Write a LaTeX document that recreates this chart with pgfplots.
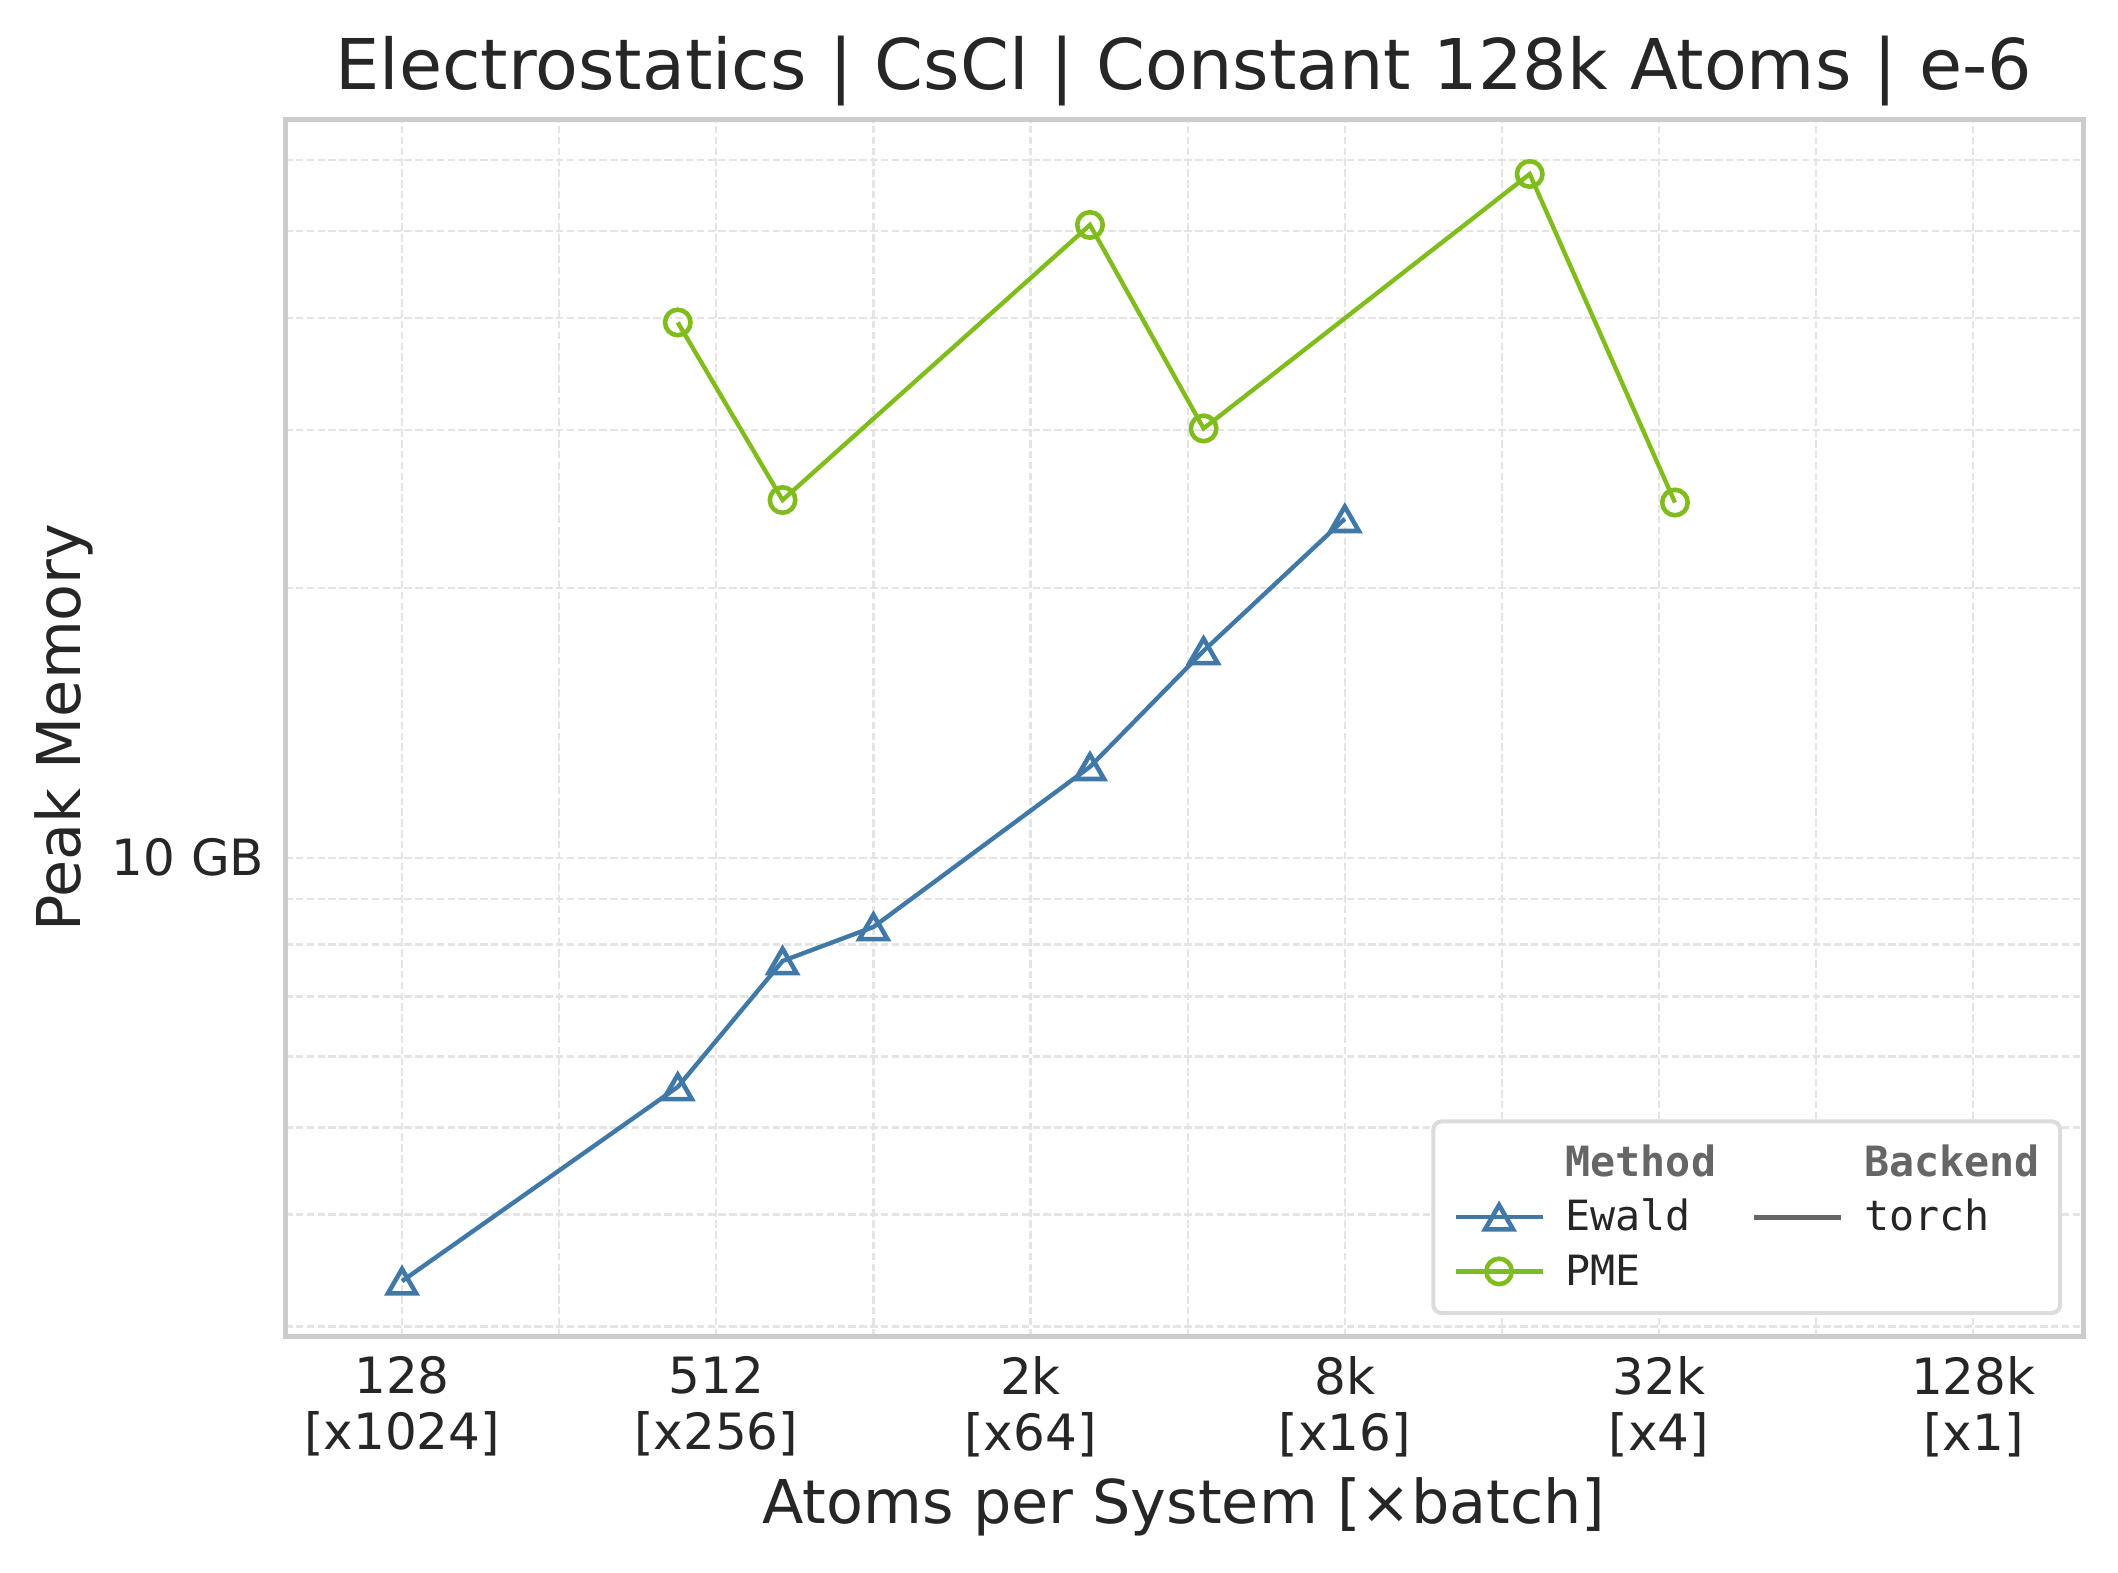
\documentclass[border=0pt]{standalone}
\usepackage{fontspec}
\setmainfont{DejaVu Sans}
\newfontfamily\monofont{DejaVu Sans Mono}
\usepackage{pgfplots}
\pgfplotsset{compat=1.18}
\definecolor{txt}{HTML}{262626}
\definecolor{framec}{HTML}{CCCCCC}
\definecolor{gridc}{HTML}{E4E4E4}
\definecolor{ewald}{HTML}{4079A7}
\definecolor{pme}{HTML}{80BD1C}
\definecolor{torchc}{HTML}{666666}
\definecolor{legframe}{HTML}{DCDCDC}
\definecolor{hdr}{HTML}{666666}
\begin{document}
\begin{tikzpicture}
\useasboundingbox (-68.4pt,-56.64pt) rectangle (439.92pt,320.64pt);
\begin{axis}[
  at={(0pt,0pt)}, anchor=south west,
  scale only axis, width=431.52pt, height=292pt,
  xmode=log, ymode=log,
  xmin=76.4, xmax=212640, ymin=2.927, ymax=66.63,
  axis line style={framec, line width=1.2pt},
  xtick={128,512,2048,8192,32768,131072},
  xticklabels={{128\\{}[x1024]},{512\\{}[x256]},{2k\\{}[x64]},{8k\\{}[x16]},{32k\\{}[x4]},{128k\\{}[x1]}},
  minor xtick={256,1024,4096,16384,65536},
  ytick={10}, yticklabels={10 GB},
  minor ytick={3,4,5,6,7,8,9,20,30,40,50,60},
  grid=both,
  major grid style={gridc, line width=0.55pt, dash pattern=on 1.8pt off 0.8pt},
  minor grid style={gridc, line width=0.55pt, dash pattern=on 1.8pt off 0.8pt},
  major tick length=0pt, minor tick length=0pt,
  tick label style={font=\fontsize{12}{13.4}\selectfont, text=txt},
  xticklabel style={align=center, anchor=north, inner sep=0pt, yshift=-4.8pt},
  yticklabel style={anchor=east, inner sep=0pt, xshift=-4.8pt},
  title={Electrostatics | CsCl | Constant 128k Atoms | e-6},
  title style={at={(axis description cs:0.5,1.00411)}, anchor=base, inner sep=0pt,
    font=\fontsize{16.8}{20}\selectfont, text=txt},
  xlabel={Atoms per System [×batch]},
  xlabel style={at={(axis description cs:0.5,-0.15377)}, anchor=base, inner sep=0pt,
    font=\fontsize{14.5}{17}\selectfont, text=txt},
  ylabel={Peak Memory},
  ylabel style={at={(axis description cs:-0.11355,0.5)}, anchor=base, inner sep=0pt,
    font=\fontsize{14.5}{17}\selectfont, text=txt},
  legend columns=2,
  legend cell align=left,
  legend image code/.code={\draw[mark repeat=2,mark phase=2] plot coordinates {(0pt,0pt)(10.45pt,0pt)(20.9pt,0pt)};},
  legend style={
    at={(axis description cs:1,0)}, anchor=south east, xshift=-5pt, yshift=5pt,
    draw=legframe, line width=1pt, rounded corners=2pt, fill=white,
    font=\monofont\fontsize{10}{12}\selectfont, text=txt,
    inner xsep=4.8pt, inner ysep=5pt,
    /tikz/every odd column/.style={column sep=5pt},
    /tikz/every even column/.style={column sep=8.6pt},
    row sep=3.0pt,
    nodes={inner sep=0pt, text height=8.3pt, text depth=1.7pt}
  },
]
\addlegendimage{empty legend}
\addlegendentry{\textbf{\textcolor{hdr}{Method}}}
\addlegendimage{empty legend}
\addlegendentry{\textbf{\textcolor{hdr}{Backend}}}

\addplot[ewald, line width=1.05pt, mark=triangle, mark size=3.9pt,
  mark options={solid, sharp corners, line width=1.1pt, yshift=-0.98pt}]
  coordinates {(128,3.37) (432,5.55) (686,7.67) (1024,8.37) (2662,12.63) (4394,17.01) (8192,23.88)};
\addlegendentry{Ewald}

\addlegendimage{torchc, line width=1.1pt, no markers}
\addlegendentry{torch}

\addplot[pme, line width=1.05pt, mark=o, mark size=3.06pt,
  mark options={solid, line width=1.1pt}]
  coordinates {(432,39.55) (686,25.06) (2662,50.8) (4394,30.12) (18522,57.9) (35152,24.9)};
\addlegendentry{PME}

\addlegendimage{empty legend}
\addlegendentry{}
\end{axis}
\end{tikzpicture}
\end{document}
